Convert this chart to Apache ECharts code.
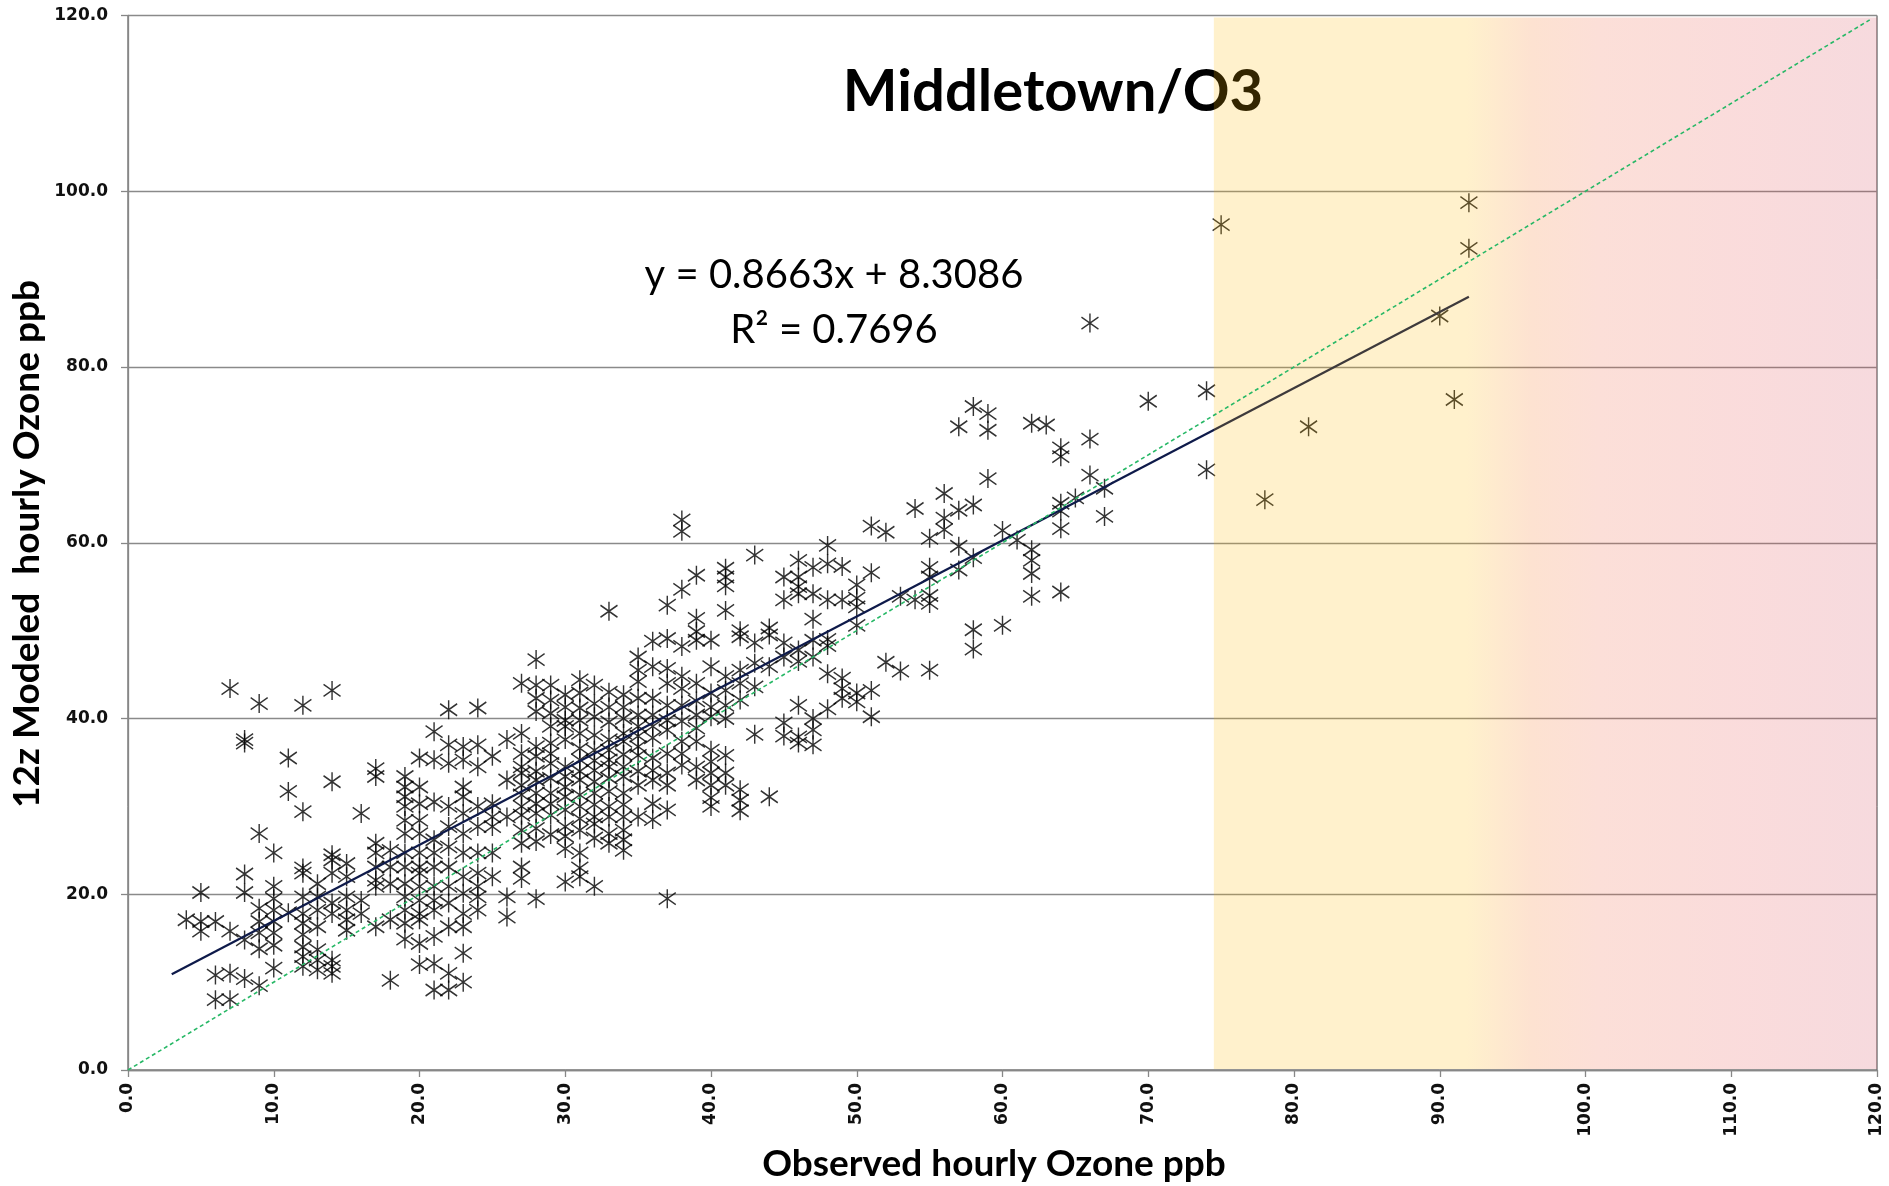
<!DOCTYPE html>
<html><head><meta charset="utf-8">
<script src="https://cdn.jsdelivr.net/npm/echarts@6/dist/echarts.min.js"></script>
<style>html,body{margin:0;padding:0;background:#fff}#c{width:1889px;height:1186px}</style>
</head><body><div id="c"></div>
<script>
// Observed hourly ozone (ppb) columns and the modeled values read at each
const obsColumns = [4,5,6,7,8,9,10,11,12,13,14,15,16,17,18,19,20,21,22,23,24,25,26,27,28,29,30,
  31,32,33,34,35,36,37,38,39,40,41,42,43,44,45,46,47,48,49,50,51,52,53,54,55,56,57,58,59,60,
  61,62,63,64,65,66,67,70,74,75,78,81,90,91,92];
const modeledByColumn = [
  [17.1],
  [20.2,16.9,15.8],
  [16.9,10.8,8.0],
  [43.4,15.8,11.0,8.0],
  [37.6,37.2,22.3,20.2,14.8,10.4],
  [41.7,26.9,18.4,16.9,15.6,13.8,9.6],
  [24.7,20.9,19.5,18.2,16.9,15.6,14.2,11.6],
  [35.5,31.7,17.9],
  [41.5,29.4,23.0,22.4,19.7,17.8,16.7,15.4,14.0,12.9,11.8],
  [21.2,19.7,18.2,16.3,13.7,12.5,11.4],
  [43.2,32.8,24.5,23.9,22.4,19.0,17.8,12.5,11.8,11.0],
  [23.5,22.0,19.7,18.2,17.1,15.9],
  [29.2,19.3,17.8],
  [34.3,33.4,25.8,24.7,23.1,21.6,20.9,16.3],
  [25.0,23.1,21.2,17.1,10.2],
  [33.4,32.2,31.1,30.0,28.4,26.9,24.7,23.1,21.2,19.7,18.2,16.7,14.9],
  [35.5,32.2,30.3,28.4,26.9,24.7,23.1,22.4,20.9,19.3,17.8,17.1,14.4,12.0],
  [38.5,35.3,30.5,26.2,24.7,23.1,20.9,19.3,18.2,15.2,12.1,9.1],
  [41.0,37.0,34.9,30.0,27.7,25.4,23.1,20.9,19.0,16.3,11.0,9.1],
  [36.8,35.3,32.2,31.1,29.2,26.9,24.7,22.0,20.1,17.8,16.3,13.3,10.0],
  [41.2,37.0,34.5,30.0,27.7,24.7,22.4,20.9,19.7,18.2],
  [35.7,30.3,28.8,27.7,24.7,22.0],
  [37.6,33.0,28.8,19.7,17.4],
  [44.0,38.3,36.0,34.5,33.8,32.4,31.3,30.0,29.0,27.3,25.8,23.1,21.8],
  [46.7,43.8,42.3,40.8,36.8,35.7,34.0,33.0,31.5,30.3,29.2,27.5,26.0,19.5],
  [43.8,42.1,40.6,39.1,37.2,36.0,34.9,33.2,31.5,30.3,29.0,26.8],
  [42.7,41.3,39.8,39.1,37.6,34.5,33.4,32.2,31.1,29.6,27.7,26.6,25.2,21.4],
  [44.4,42.9,41.2,39.8,38.3,36.6,35.3,34.0,33.0,31.3,30.0,28.6,27.3,24.7,23.0,22.0],
  [43.8,41.7,40.2,38.1,36.4,35.2,34.1,32.8,31.5,30.2,28.8,28.0,26.4,20.9],
  [52.2,43.0,41.3,39.6,37.6,36.4,35.3,34.5,33.2,31.7,30.0,28.8,26.9,25.8],
  [42.7,41.3,40.0,38.3,37.4,35.9,34.5,33.4,31.5,30.2,28.8,27.3,26.2,25.0],
  [47.0,45.5,44.2,42.3,40.4,39.1,38.0,36.8,35.8,34.0,32.4,28.8],
  [48.8,45.9,42.3,40.4,39.1,37.8,35.5,34.1,33.0,30.3,28.5],
  [52.9,49.1,45.7,44.0,41.5,39.8,38.7,36.0,33.8,32.4,29.6,19.5],
  [62.6,61.3,54.7,48.2,44.8,43.4,41.5,39.7,37.4,36.0,34.7],
  [56.3,51.4,49.9,48.9,44.0,42.0,40.4,38.9,37.4,34.5,33.0],
  [48.9,45.9,42.9,41.3,40.2,36.4,35.1,33.8,32.4,31.0,30.0],
  [57.1,56.1,55.1,52.3,44.8,43.2,41.5,40.0,35.8,33.8,32.4],
  [50.0,49.3,45.5,44.0,42.1,31.9,30.7,29.5],
  [58.6,48.6,46.3,43.6,38.2],
  [50.3,49.5,45.9,31.1],
  [56.1,53.5,48.6,47.0,39.5,38.0],
  [58.0,56.1,55.0,54.2,47.8,46.5,41.5,37.9,37.2],
  [57.2,54.2,51.3,48.9,47.0,40.0,38.7,37.0],
  [59.7,57.6,53.5,49.0,48.3,45.1,41.1],
  [57.3,53.5,44.6,43.4,42.3],
  [55.2,53.7,52.7,50.6,42.9,41.9],
  [61.9,56.6,43.2,40.2],
  [61.2,46.4],
  [53.9,45.4],
  [63.9,53.5],
  [60.5,57.2,56.1,54.0,53.1,45.5],
  [65.6,62.8,61.5],
  [73.2,63.7,59.6,56.9],
  [75.5,64.3,58.3,50.1,47.9],
  [74.7,72.8,67.3],
  [61.4,50.6],
  [60.3],
  [73.6,59.2,58.0,56.5,53.9],
  [73.4],
  [70.8,69.8,64.5,63.6,61.6,54.4],
  [65.1],
  [85.0,71.8,67.7],
  [66.2,63.0],
  [76.1],
  [77.3,68.3],
  [96.2],
  [64.9],
  [73.2],
  [85.8],
  [76.3],
  [98.7,93.5]
];
// Linear trend line end points (as drawn) and 1:1 reference line
const trendX = [3, 92];
const trendY = [10.9, 88.0];
const oneToOneX = [0, 119.5];
const oneToOneY = [0, 119.5];
// Shaded exceedance band on the observed axis
const shadeRange = [74.5, 120];
const axisTicks = [0, 120, 10, 20]; // min, max, x interval, y interval
const titleText = 'Middletown/O3';
const xTitle = 'Observed hourly Ozone ppb';
const yTitle = '12z Modeled  hourly Ozone ppb';
const eqLine1 = 'y = 0.8663x + 8.3086';
const eqLine2 = 'R\u00B2 = 0.7696';

const scatterData = [];
obsColumns.forEach((x, i) => modeledByColumn[i].forEach(y => scatterData.push([x, y])));

const chart = echarts.init(document.getElementById('c'), null, {renderer: 'canvas'});
const labelFont = {fontFamily: 'DejaVu Sans', fontWeight: 'bold', fontSize: 17, color: '#111'};
const nameStyle = {fontFamily: 'Lato', fontWeight: 'bold', fontSize: 37, fill: '#000', textAlign: 'center', textVerticalAlign: 'middle'};

chart.setOption({
  animation: false,
  backgroundColor: '#fff',
  grid: {left: 128, right: 12, top: 15.5, bottom: 116, containLabel: false, outerBoundsMode: 'none',
    show: true, borderColor: '#3a3a3a', borderWidth: 1, backgroundColor: 'transparent'},
  xAxis: {
    type: 'value', min: axisTicks[0], max: axisTicks[1], interval: axisTicks[2],
    axisLine: {show: true, onZero: false, lineStyle: {color: '#878787', width: 1.3}},
    axisTick: {show: true, inside: false, length: 7, lineStyle: {color: '#878787', width: 1.3}},
    splitLine: {show: false},
    axisLabel: Object.assign({rotate: 90, margin: 13, formatter: v => v.toFixed(1)}, labelFont)
  },
  yAxis: {
    type: 'value', min: axisTicks[0], max: axisTicks[1], interval: axisTicks[3],
    axisLine: {show: true, onZero: false, lineStyle: {color: '#878787', width: 1.3}},
    axisTick: {show: true, inside: false, length: 7, lineStyle: {color: '#878787', width: 1.3}},
    splitLine: {show: true, lineStyle: {color: '#8a8a8a', width: 1.3}},
    axisLabel: Object.assign({margin: 20, formatter: v => v.toFixed(1)}, labelFont)
  },
  graphic: [
    {type: 'text', z: 5, x: 1053, y: 92, style: {text: titleText, fontFamily: 'Lato', fontWeight: 'bold', fontSize: 58, fill: '#000', textAlign: 'center', textVerticalAlign: 'middle'}},
    {type: 'text', z: 5, x: 834, y: 275, style: {text: eqLine1, fontFamily: 'Lato', fontSize: 40, fill: '#000', textAlign: 'center', textVerticalAlign: 'middle'}},
    {type: 'text', z: 5, x: 834, y: 330, style: {text: eqLine2, fontFamily: 'Lato', fontSize: 40, fill: '#000', textAlign: 'center', textVerticalAlign: 'middle'}},
    {type: 'text', z: 5, x: 994, y: 1164, style: Object.assign({text: xTitle}, nameStyle)},
    {type: 'text', z: 5, x: 27, y: 544, rotation: Math.PI / 2, style: Object.assign({text: yTitle}, nameStyle)}
  ],
  series: [
    {
      type: 'scatter', z: 3, data: scatterData,
      symbol: 'path://M8.5,0L8.5,19M0,3.5L17,15.5M0,15.5L17,3.5', symbolSize: [17, 19],
      itemStyle: {color: 'rgba(0,0,0,0)', borderColor: '#000', borderWidth: 1.5},
      silent: true
    },
    {
      type: 'line', z: 4, data: trendX.map((x, i) => [x, trendY[i]]), symbol: 'none', silent: true,
      lineStyle: {color: '#0E1A4A', width: 2.2}
    },
    {
      type: 'custom', z: 10, silent: true,
      data: [[shadeRange[0], shadeRange[1]]],
      renderItem: function (params, api) {
        const p0 = api.coord([api.value(0), axisTicks[1]]);
        const p1 = api.coord([api.value(1), axisTicks[0]]);
        return {
          type: 'rect',
          shape: {x: p0[0], y: p0[1] + 2, width: p1[0] - p0[0], height: p1[1] - p0[1] - 3},
          style: {fill: new echarts.graphic.LinearGradient(0, 0, 1, 0, [
            {offset: 0, color: 'rgba(255,185,0,0.2)'},
            {offset: 0.38, color: 'rgba(255,185,0,0.2)'},
            {offset: 0.48, color: 'rgba(245,110,25,0.2)'},
            {offset: 0.58, color: 'rgba(240,95,60,0.2)'},
            {offset: 0.8, color: 'rgba(230,78,78,0.2)'},
            {offset: 1, color: 'rgba(212,70,90,0.2)'}
          ])}
        };
      }
    },
    {
      type: 'line', z: 11, data: oneToOneX.map((x, i) => [x, oneToOneY[i]]), symbol: 'none', silent: true,
      lineStyle: {color: '#27B866', width: 1.6, type: [4, 3]}
    }
  ]
});
</script></body></html>
